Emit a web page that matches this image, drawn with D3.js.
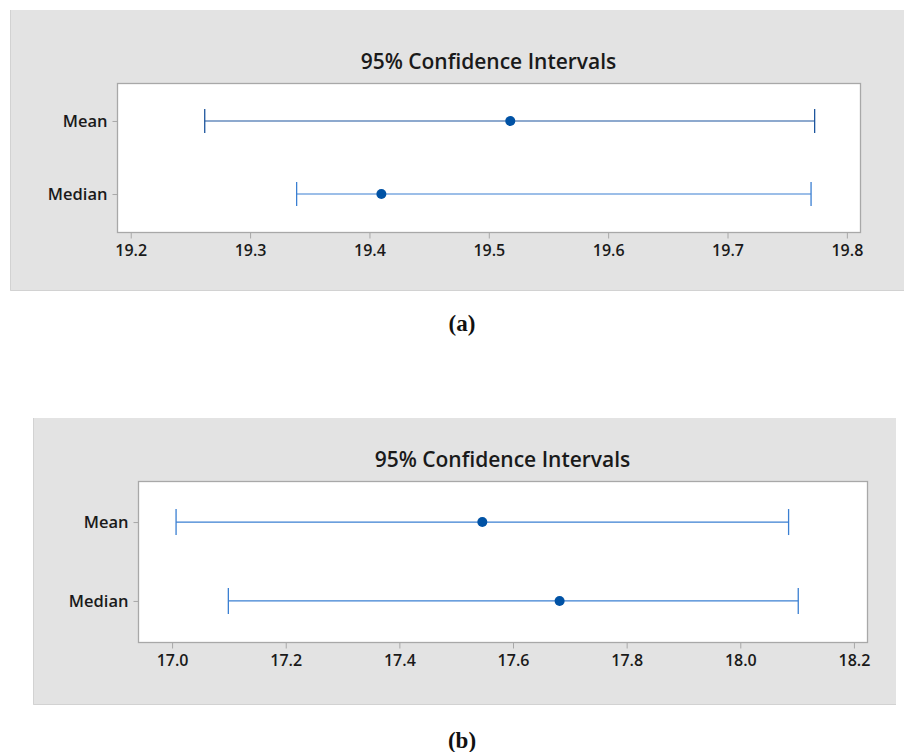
<!DOCTYPE html>
<html>
<head>
<meta charset="utf-8">
<script src="https://cdn.jsdelivr.net/npm/d3@7"></script>
<style>
  html, body { margin: 0; padding: 0; background: #ffffff; }
  svg { display: block; }
</style>
</head>
<body>
<svg id="chart" width="904" height="752"></svg>
<script>
// Interval rows shared by both panels
const categories = ["Mean", "Median"];
const chartTitle = "95% Confidence Intervals";
const panelLabels = ["(a)", "(b)"];

// Panel (a)
const ticksA = [19.2, 19.3, 19.4, 19.5, 19.6, 19.7, 19.8];
const lowerA = [19.262, 19.339];
const estimateA = [19.518, 19.410];
const upperA = [19.773, 19.770];
const domainA = [19.1885, 19.811];

// Panel (b)
const ticksB = [17.0, 17.2, 17.4, 17.6, 17.8, 18.0, 18.2];
const lowerB = [17.007, 17.099];
const estimateB = [17.546, 17.682];
const upperB = [18.085, 18.102];
const domainB = [16.940, 18.223];

const svg = d3.select("#chart");
const font = "'Open Sans', 'Noto Sans', sans-serif";

function drawPanel(cfg) {
  const g = svg.append("g");

  // grey backdrop with a faint edge on the left and bottom
  g.append("rect")
    .attr("x", cfg.bg.x).attr("y", cfg.bg.y)
    .attr("width", cfg.bg.w).attr("height", cfg.bg.h)
    .attr("fill", "#e3e3e3");
  g.append("path")
    .attr("d", `M${cfg.bg.x + 0.5},${cfg.bg.y} V${cfg.bg.y + cfg.bg.h - 0.5} H${cfg.bg.x + cfg.bg.w}`)
    .attr("fill", "none").attr("stroke", "#d2d2d2").attr("stroke-width", 1);

  const x = d3.scaleLinear().domain(cfg.domain).range([cfg.plot.l, cfg.plot.r]);
  const y = d3.scalePoint().domain(categories).range([cfg.plot.t, cfg.plot.b]).padding(0.52);

  // white data region with grey frame
  g.append("rect")
    .attr("x", cfg.plot.l + 0.5).attr("y", cfg.plot.t + 0.5)
    .attr("width", cfg.plot.r - cfg.plot.l).attr("height", cfg.plot.b - cfg.plot.t)
    .attr("fill", "#ffffff").attr("stroke", "#a8a8a8").attr("stroke-width", 1.3);

  // x axis
  const xAxis = g.append("g")
    .attr("transform", `translate(0,${cfg.plot.b + 0.5})`)
    .call(d3.axisBottom(x).tickValues(cfg.ticks).tickFormat(d3.format(".1f")).tickSize(6).tickPadding(6));
  xAxis.select(".domain").remove();
  xAxis.selectAll(".tick line").attr("stroke", "#a8a8a8");
  xAxis.selectAll(".tick text")
    .attr("fill", "#1a1a1a").attr("font-family", font)
    .attr("font-weight", 600).attr("font-size", 16);

  // y axis
  const yAxis = g.append("g")
    .attr("transform", `translate(${cfg.plot.l + 0.5},0)`)
    .call(d3.axisLeft(y).tickSize(5).tickPadding(5));
  yAxis.select(".domain").remove();
  yAxis.selectAll(".tick line").attr("stroke", "#a8a8a8");
  yAxis.selectAll(".tick text")
    .attr("fill", "#1a1a1a").attr("font-family", font)
    .attr("font-weight", 600).attr("font-size", 16.5);

  // title
  g.append("text")
    .attr("x", (cfg.plot.l + cfg.plot.r) / 2)
    .attr("y", cfg.titleY)
    .attr("text-anchor", "middle")
    .attr("font-family", font).attr("font-weight", 600).attr("font-size", 21)
    .attr("fill", "#1a1a1a")
    .text(chartTitle);

  const rows = categories.map((c, i) => ({
    cat: c, lo: cfg.lower[i], est: cfg.estimate[i], hi: cfg.upper[i], color: cfg.colors[i]
  }));

  const rowG = g.selectAll(".row").data(rows).join("g").attr("class", "row");
  rowG.append("line")
    .attr("x1", d => x(d.lo)).attr("x2", d => x(d.hi))
    .attr("y1", d => y(d.cat)).attr("y2", d => y(d.cat))
    .attr("stroke", d => d.color).attr("stroke-width", 1.2);
  rowG.selectAll(".cap").data(d => [d.lo, d.hi].map(v => ({ v, d })))
    .join("line").attr("class", "cap")
    .attr("x1", e => x(e.v)).attr("x2", e => x(e.v))
    .attr("y1", e => y(e.d.cat) - cfg.cap).attr("y2", e => y(e.d.cat) + cfg.cap)
    .attr("stroke", e => e.d.color).attr("stroke-width", 1.3);
  rowG.append("circle")
    .attr("cx", d => x(d.est)).attr("cy", d => y(d.cat))
    .attr("r", 5).attr("fill", "#0052a5");

  // panel caption
  svg.append("text")
    .attr("x", 462).attr("y", cfg.labelY)
    .attr("text-anchor", "middle")
    .attr("font-family", "'Liberation Serif', 'Times New Roman', serif")
    .attr("font-weight", 700).attr("font-size", 23)
    .attr("fill", "#111")
    .text(cfg.label);
}

drawPanel({
  bg: { x: 10, y: 10, w: 894, h: 281 },
  plot: { l: 117, t: 83, r: 860, b: 232 },
  domain: domainA, ticks: ticksA,
  lower: lowerA, estimate: estimateA, upper: upperA,
  colors: ["#1d559d", "#3a7fd2"],
  cap: 12, titleY: 69, labelY: 331, label: panelLabels[0]
});

drawPanel({
  bg: { x: 33, y: 418, w: 863, h: 287 },
  plot: { l: 138, t: 481, r: 867, b: 642 },
  domain: domainB, ticks: ticksB,
  lower: lowerB, estimate: estimateB, upper: upperB,
  colors: ["#3a7fd2", "#3a7fd2"],
  cap: 13, titleY: 467, labelY: 748, label: panelLabels[1]
});
</script>
</body>
</html>
